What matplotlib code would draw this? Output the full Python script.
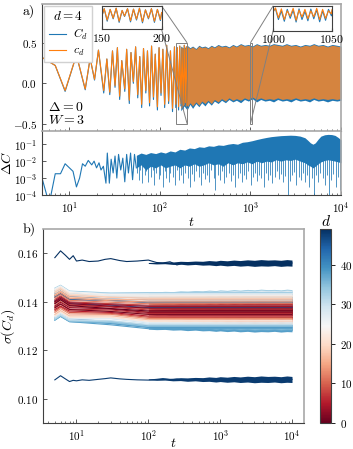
import numpy as np
import matplotlib
matplotlib.use('Agg')
import matplotlib.pyplot as plt
from matplotlib.colors import Normalize
from matplotlib.cm import ScalarMappable
from mpl_toolkits.axes_grid1.inset_locator import mark_inset

plt.rcParams.update({
    'font.family': 'serif',
    'font.serif': ['cmr10'],
    'mathtext.fontset': 'cm',
    'axes.formatter.use_mathtext': True,
    'font.size': 8,
})

# ---------------- panel a) : C_d and c_d, d = 4 ----------------
t_early = [5, 7, 9, 12, 15, 17, 19, 21, 24, 26, 28, 30, 32, 34, 36, 38, 41, 43,
           46, 48, 51, 54, 57, 60, 63, 66, 70, 73, 77, 81, 85, 89, 94, 98, 103,
           108, 113, 119, 125, 131, 138, 145, 150, 156, 161, 166, 171, 176, 181,
           186, 191, 196, 201]
C_early = [0.32, 0.22, -0.10, 0.35, -0.08, 0.31, 0.04, 0.41, -0.12, 0.30, -0.14,
           0.40, -0.05, 0.44, -0.20, 0.28, -0.10, 0.42, -0.25, 0.38, 0.00, 0.45,
           -0.18, 0.33, -0.30, 0.43, -0.12, 0.40, -0.28, 0.46, -0.20, 0.36, -0.33,
           0.44, -0.15, 0.42, -0.30, 0.47, -0.25, 0.40, -0.35, 0.45, -0.30, 0.44,
           -0.33, 0.46, -0.28, 0.43, -0.32, 0.47, -0.27, 0.45, -0.30]
c_early = [0.32, 0.22, -0.09, 0.35, -0.07, 0.31, 0.05, 0.41, -0.09, 0.30, -0.11,
           0.40, -0.03, 0.44, -0.16, 0.28, -0.07, 0.42, -0.21, 0.38, 0.02, 0.45,
           -0.14, 0.33, -0.26, 0.43, -0.09, 0.40, -0.24, 0.46, -0.17, 0.36, -0.29,
           0.44, -0.12, 0.42, -0.26, 0.47, -0.22, 0.40, -0.31, 0.45, -0.26, 0.44,
           -0.29, 0.46, -0.25, 0.43, -0.28, 0.47, -0.24, 0.45, -0.27]

# dense part of the signal: envelopes of the oscillation band
t_band = [170, 185, 200, 215, 230, 250, 270, 290, 315, 340, 370, 400, 440, 480,
          530, 580, 640, 700, 780, 860, 950, 1050, 1170, 1300, 1450, 1620, 1800,
          2000, 2250, 2500, 2800, 3150, 3550, 4000, 4500, 5000, 5600, 6300, 7100,
          8000, 9000, 10000]
C_band_hi = [0.46, 0.43, 0.47, 0.44, 0.46, 0.43, 0.47, 0.45, 0.46, 0.44, 0.47, 0.45,
             0.48, 0.46, 0.47, 0.45, 0.48, 0.46, 0.49, 0.47, 0.48, 0.46, 0.49, 0.47,
             0.48, 0.47, 0.49, 0.48, 0.47, 0.49, 0.47, 0.48, 0.46, 0.48, 0.47, 0.49,
             0.47, 0.48, 0.46, 0.48, 0.47, 0.46]
C_band_lo = [-0.34, -0.28, -0.33, -0.26, -0.31, -0.25, -0.29, -0.24, -0.28, -0.23,
             -0.27, -0.22, -0.25, -0.21, -0.24, -0.20, -0.23, -0.21, -0.24, -0.20,
             -0.22, -0.19, -0.23, -0.20, -0.22, -0.21, -0.23, -0.20, -0.22, -0.21,
             -0.23, -0.20, -0.22, -0.21, -0.23, -0.20, -0.22, -0.21, -0.23, -0.21,
             -0.22, -0.21]
c_band_hi = [0.45, 0.42, 0.46, 0.43, 0.45, 0.42, 0.46, 0.44, 0.45, 0.43, 0.46, 0.44,
             0.47, 0.45, 0.46, 0.44, 0.47, 0.45, 0.48, 0.46, 0.47, 0.45, 0.48, 0.46,
             0.47, 0.46, 0.48, 0.47, 0.46, 0.48, 0.46, 0.47, 0.45, 0.47, 0.46, 0.48,
             0.46, 0.47, 0.45, 0.47, 0.46, 0.45]
c_band_lo = [-0.31, -0.26, -0.30, -0.24, -0.28, -0.23, -0.27, -0.22, -0.25, -0.21,
             -0.25, -0.20, -0.23, -0.19, -0.22, -0.18, -0.21, -0.19, -0.21, -0.18,
             -0.20, -0.17, -0.20, -0.18, -0.20, -0.19, -0.20, -0.18, -0.20, -0.19,
             -0.20, -0.18, -0.20, -0.19, -0.20, -0.18, -0.20, -0.19, -0.20, -0.19,
             -0.20, -0.19]

# zoomed windows
t_in1 = [150, 152, 154.5, 157, 159.5, 162, 164.5, 167, 169, 171.5, 174, 176.5,
         179, 181.5, 184, 186.5, 189, 191.5, 194, 196.5, 199, 200]
C_in1 = [0.05, 0.38, -0.15, 0.35, -0.05, 0.40, -0.20, 0.30, 0.05, 0.38, -0.18,
         0.36, -0.10, 0.40, -0.22, 0.33, -0.05, 0.38, -0.20, 0.35, -0.12, 0.20]
c_in1 = [0.07, 0.38, -0.10, 0.35, -0.02, 0.40, -0.15, 0.31, 0.07, 0.38, -0.13,
         0.36, -0.06, 0.40, -0.17, 0.33, -0.02, 0.38, -0.15, 0.35, -0.08, 0.22]
t_in2 = [1000, 1002, 1004.5, 1007, 1009.5, 1012, 1014.5, 1017, 1019.5, 1022,
         1024.5, 1027, 1029.5, 1032, 1034.5, 1037, 1039.5, 1042, 1044.5, 1047,
         1049.5, 1050]
C_in2 = [0.30, 0.38, -0.05, 0.30, -0.12, 0.36, 0.00, 0.33, -0.15, 0.38, -0.05,
         0.28, -0.10, 0.37, -0.02, 0.34, -0.14, 0.30, -0.08, 0.36, 0.10, 0.30]
c_in2 = [0.25, 0.42, 0.02, 0.38, -0.05, 0.30, 0.08, 0.40, -0.08, 0.33, 0.05,
         0.36, -0.02, 0.30, 0.06, 0.40, -0.05, 0.36, 0.00, 0.30, 0.18, 0.35]

# ---------------- Delta C ----------------
t_dc = [5, 6, 7, 8, 9, 11, 12, 13, 14, 15, 16.2, 17.7, 18.8, 20, 21.3, 22.4, 23.8,
        25.4, 26.3, 27.7, 29, 30.5, 32, 33.5, 35, 37, 39, 41, 43, 45, 47.5, 50,
        52.5, 55]
dc_early = [1.0e-3, 3e-5, 1.8e-3, 1.8e-3, 7e-3, 2.5e-3, 3e-4, 1e-3, 7e-3, 5e-3,
            1.1e-2, 6e-3, 1e-2, 4e-3, 8e-3, 3e-3, 5e-3, 5e-4, 3e-2, 5e-4, 1.3e-2,
            2e-3, 2e-2, 1e-3, 2.5e-2, 3e-3, 1.5e-2, 6e-4, 2.5e-2, 2e-3, 3e-2,
            8e-4, 2.5e-2, 4e-3]
t_dc_band = [55, 62, 70, 79, 90, 102, 115, 130, 147, 166, 188, 212, 240, 271, 306,
             346, 391, 442, 500, 565, 640, 720, 815, 920, 1040, 1180, 1330, 1500,
             1700, 1920, 2170, 2450, 2770, 3130, 3540, 4000, 4300, 4600, 4900, 5200,
             5600, 6000, 6600, 7200, 7900, 8600, 9300, 10000]
dc_hi = [0.022, 0.03, 0.025, 0.032, 0.028, 0.035, 0.03, 0.04, 0.035, 0.05,
         0.045, 0.06, 0.055, 0.07, 0.065, 0.08, 0.075, 0.09, 0.085, 0.1,
         0.11, 0.1, 0.13, 0.14, 0.16, 0.19, 0.22, 0.25, 0.28, 0.3,
         0.32, 0.33, 0.34, 0.33, 0.3, 0.24, 0.17, 0.12, 0.1, 0.12,
         0.2, 0.3, 0.36, 0.38, 0.37, 0.33, 0.25, 0.18]
dc_lo = [0.004, 0.006, 0.003, 0.005, 0.004, 0.006, 0.004, 0.005, 0.006, 0.004,
         0.006, 0.005, 0.007, 0.005, 0.006, 0.008, 0.006, 0.007, 0.005, 0.008,
         0.006, 0.008, 0.007, 0.009, 0.007, 0.01, 0.008, 0.01, 0.009, 0.012,
         0.01, 0.012, 0.011, 0.013, 0.01, 0.008, 0.006, 0.005, 0.004, 0.005,
         0.007, 0.009, 0.011, 0.012, 0.011, 0.01, 0.009, 0.008]
spike_t = [56, 59, 61, 64, 68, 71, 74, 79, 83, 87, 91, 97, 101, 107, 113, 118, 126,
           131, 139, 147, 153, 163, 171, 182, 190, 203, 214, 226, 241, 252, 268,
           283, 297, 316, 333, 350, 371, 392, 410, 436, 462, 487, 515, 544, 578,
           610, 643, 680, 722, 760, 805, 851, 897, 950, 1004, 1062, 1120, 1185,
           1253, 1322, 1400, 1478, 1563, 1650, 1745, 1846, 1950, 2060, 2180, 2303,
           2435, 2570, 2720, 2875, 3040, 3210, 3395, 3590, 3790, 4010, 4240, 4480,
           4730, 5000, 5290, 5590, 5910, 6250, 6600, 6980, 7380, 7800, 8240, 8710,
           9210, 9730]
spike_lo = [2e-3, 8e-4, 3e-3, 5e-4, 1.5e-3, 2.5e-3, 6e-4, 1.2e-3, 3e-3, 4e-4,
            2e-3, 9e-4, 1.5e-3, 3e-4, 2.5e-3, 1e-3, 6e-4, 2e-3, 1.2e-3, 4e-4,
            3e-3, 8e-4, 1.5e-3, 5e-4, 2e-3, 1e-3, 3e-4, 1.8e-3, 7e-4, 2.5e-3,
            1.2e-3, 4e-4, 2e-3, 9e-4, 1.5e-3, 6e-4, 3e-3, 1e-3, 2e-4, 1.5e-3,
            8e-4, 2.5e-3, 5e-4, 1.2e-3, 2e-3, 7e-4, 1.5e-3, 3e-4, 1e-3, 2e-3,
            6e-4, 1.5e-3, 9e-4, 2.5e-3, 4e-4, 1.2e-3, 2e-3, 7e-4, 1.5e-3, 1e-3,
            3e-4, 2e-3, 8e-4, 1.5e-3, 5e-4, 1.2e-3, 2.5e-3, 9e-4, 1.8e-3, 6e-4,
            1.3e-3, 1e-4, 7e-4, 1.5e-3, 2.2e-3, 4e-4, 1.2e-3, 8e-4, 2e-3, 6e-4,
            1.5e-3, 3e-4, 1e-3, 1e-4, 1.5e-3, 6e-4, 2e-3, 1e-3, 4e-4, 1.5e-3,
            1e-4, 8e-4, 1.8e-3, 3e-4, 1.2e-3, 2e-4]

# ---------------- panel b) : sigma(C_d) for d = 0..49 ----------------
sig_t5 = [0.1392, 0.1375, 0.1400, 0.1382, 0.1404, 0.1368, 0.1394, 0.1378, 0.1410, 0.1362,
          0.1398, 0.1386, 0.1416, 0.1356, 0.1424, 0.1372, 0.1430, 0.1348, 0.1438, 0.1364,
          0.1444, 0.1342, 0.1428, 0.1450, 0.1346, 0.1436, 0.1454, 0.1338, 0.1446, 0.1335,
          0.1452, 0.1330, 0.1440, 0.1328, 0.1456, 0.1326, 0.1446, 0.1324, 0.1325, 0.1404,
          0.1330, 0.1432, 0.1336, 0.1418, 0.1436, 0.1400, 0.1426, 0.1420]
sig_t6 = [0.1408, 0.1390, 0.1414, 0.1398, 0.1420, 0.1382, 0.1410, 0.1392, 0.1424, 0.1378,
          0.1412, 0.1402, 0.1430, 0.1372, 0.1438, 0.1388, 0.1444, 0.1364, 0.1452, 0.1380,
          0.1458, 0.1358, 0.1442, 0.1462, 0.1362, 0.1450, 0.1466, 0.1354, 0.1460, 0.1350,
          0.1464, 0.1346, 0.1454, 0.1344, 0.1468, 0.1342, 0.1460, 0.1340, 0.1340, 0.1418,
          0.1346, 0.1446, 0.1350, 0.1432, 0.1450, 0.1414, 0.1440, 0.1434]
sig_t8 = [0.1384, 0.1368, 0.1392, 0.1376, 0.1396, 0.1362, 0.1386, 0.1370, 0.1400, 0.1356,
          0.1388, 0.1380, 0.1406, 0.1350, 0.1414, 0.1366, 0.1420, 0.1342, 0.1426, 0.1358,
          0.1432, 0.1336, 0.1418, 0.1438, 0.1340, 0.1426, 0.1442, 0.1332, 0.1434, 0.1328,
          0.1440, 0.1324, 0.1428, 0.1322, 0.1444, 0.1320, 0.1434, 0.1318, 0.1318, 0.1396,
          0.1324, 0.1420, 0.1330, 0.1408, 0.1424, 0.1392, 0.1416, 0.1410]
sig_t30 = [0.1372, 0.1360, 0.1382, 0.1370, 0.1388, 0.1356, 0.1378, 0.1366, 0.1392, 0.1352,
           0.1380, 0.1372, 0.1398, 0.1348, 0.1404, 0.1362, 0.1410, 0.1342, 0.1418, 0.1356,
           0.1420, 0.1336, 0.1410, 0.1428, 0.1338, 0.1416, 0.1430, 0.1332, 0.1426, 0.1330,
           0.1434, 0.1322, 0.1420, 0.1318, 0.1436, 0.1315, 0.1430, 0.1312, 0.1305, 0.1392,
           0.1310, 0.1415, 0.1318, 0.1405, 0.1418, 0.1386, 0.1410, 0.1406]
sig_end = [0.1362, 0.1348, 0.1374, 0.1356, 0.1381, 0.1341, 0.1366, 0.1352, 0.1386, 0.1336,
           0.1371, 0.1358, 0.1392, 0.1331, 0.1399, 0.1346, 0.1408, 0.1326, 0.1414, 0.1339,
           0.1419, 0.1320, 0.1404, 0.1427, 0.1323, 0.1411, 0.1431, 0.1316, 0.1424, 0.1312,
           0.1435, 0.1307, 0.1418, 0.1303, 0.1438, 0.1299, 0.1429, 0.1296, 0.1289, 0.1383,
           0.1294, 0.1409, 0.1301, 0.1396, 0.1416, 0.1376, 0.1404, 0.1398]
t_knots = [5, 6, 8, 30, 100, 10000]

# the two outlying series (d = 48 and d = 49)
t_out = [5, 6, 7, 8, 9, 10, 12, 15, 20, 25, 30, 40, 50, 70, 100, 130, 160, 200,
         250, 300, 400]
sig_d49 = [0.1582, 0.1610, 0.1592, 0.1575, 0.1590, 0.1568, 0.1572, 0.1566, 0.1568,
           0.1575, 0.1578, 0.1570, 0.1566, 0.1568, 0.1572, 0.1562, 0.1560, 0.1565,
           0.1552, 0.1558, 0.1560]
sig_d48 = [0.1078, 0.1095, 0.1082, 0.1071, 0.1076, 0.1074, 0.1078, 0.1076, 0.1080,
           0.1083, 0.1086, 0.1082, 0.1080, 0.1078, 0.1077, 0.1080, 0.1083, 0.1079,
           0.1081, 0.1078, 0.1080]
end_d49 = 0.1560
end_d48 = 0.1080

# thickness of the fast fluctuations at late times (above / below each level)
jit_t = [100, 130, 170, 220, 280, 350, 450, 570, 700, 870, 1000, 1250, 1550,
         1900, 2400, 3000, 3700, 4600, 5700, 7000, 8500, 10000]
jit_hi = np.array([0.0002, 0.0003, 0.0005, 0.0004, 0.0007, 0.0006, 0.0008, 0.0007,
                   0.0010, 0.0008, 0.0011, 0.0009, 0.0012, 0.0010, 0.0013, 0.0011,
                   0.0014, 0.0012, 0.0013, 0.0011, 0.0014, 0.0012])
jit_lo = np.array([0.0002, 0.0004, 0.0003, 0.0006, 0.0005, 0.0008, 0.0006, 0.0009,
                   0.0008, 0.0011, 0.0009, 0.0012, 0.0010, 0.0013, 0.0011, 0.0014,
                   0.0012, 0.0013, 0.0011, 0.0014, 0.0012, 0.0013])


def style(ax):
    for s in ['top', 'right']:
        ax.spines[s].set_color('#a8a8a8')
        ax.spines[s].set_linewidth(1.2)
    for s in ['left', 'bottom']:
        ax.spines[s].set_color('#404040')
        ax.spines[s].set_linewidth(0.8)
    ax.tick_params(which='major', direction='in', length=3, width=0.6, color='#404040')
    ax.tick_params(which='minor', direction='in', length=1.8, width=0.5, color='#404040')


fig = plt.figure(figsize=(3.53, 4.49), dpi=100)
ax_a = fig.add_axes([0.119, 0.7082, 0.847, 0.2829])
ax_dc = fig.add_axes([0.119, 0.5657, 0.847, 0.1425], sharex=ax_a)
ax_b = fig.add_axes([0.1218, 0.0579, 0.739, 0.432])
cax = fig.add_axes([0.9065, 0.0579, 0.0312, 0.432])

blue = '#1f77b4'
orange = '#ff7f0e'
band_orange = '#d5843f'

#------------------------------ panel a ------------------------------#
ax_a.plot(t_early, C_early, color=blue, lw=0.8, label='$C_d$')
ax_a.plot(t_early, c_early, color=orange, lw=0.8, label='$c_d$')
ax_a.fill_between(t_band, C_band_lo, C_band_hi, color=blue, lw=0)
ax_a.fill_between(t_band, c_band_lo, c_band_hi, color=band_orange, lw=0)
ax_a.set_xscale('log')
ax_a.set_xlim(5, 1e4)
ax_a.set_ylim(-0.59, 0.98)
ax_a.set_yticks([-0.5, 0.0, 0.5])
ax_a.tick_params(labelbottom=False)
style(ax_a)
ax_a.legend(title='$d=4$', loc='upper left', fontsize=8.5, title_fontsize=9.5,
            handlelength=1.5, handletextpad=0.6, borderpad=0.35, labelspacing=0.3,
            borderaxespad=0.2, framealpha=1, edgecolor='0.82', fancybox=False)
ax_a.text(0.02, 0.035, '$\\Delta=0$\n$W=3$', transform=ax_a.transAxes,
          fontsize=10, va='bottom', linespacing=1.0)

ins1 = ax_a.inset_axes([0.2, 0.80, 0.2, 0.185])
ins1.plot(t_in1, C_in1, color=blue, lw=0.8)
ins1.plot(t_in1, c_in1, color=orange, lw=0.8)
ins1.set_xlim(150, 200)
ins1.set_ylim(-0.5, 0.5)
ins1.set_xticks([150, 200])
ins1.set_yticks([])
ins1.tick_params(direction='in', length=2, pad=2, labelsize=8.5)
mark_inset(ax_a, ins1, loc1=1, loc2=4, fc='none', ec='0.5', lw=0.7)

ins2 = ax_a.inset_axes([0.773, 0.79, 0.197, 0.195])
ins2.plot(t_in2, C_in2, color=blue, lw=0.8)
ins2.plot(t_in2, c_in2, color=orange, lw=0.8)
ins2.set_xlim(1000, 1050)
ins2.set_ylim(-0.5, 0.5)
ins2.set_xticks([1000, 1050])
ins2.set_yticks([])
ins2.tick_params(direction='in', length=2, pad=2, labelsize=8.5)
mark_inset(ax_a, ins2, loc1=2, loc2=3, fc='none', ec='0.5', lw=0.7)
for ins in (ins1, ins2):
    for s in ins.spines.values():
        s.set_color('#404040')
        s.set_linewidth(0.8)

#------------------------------ Delta C ------------------------------#
ax_dc.plot(t_dc, dc_early, color=blue, lw=0.8)
ax_dc.fill_between(t_dc_band, dc_lo, dc_hi, color=blue, lw=0)
ax_dc.vlines(spike_t, spike_lo, 0.02, color=blue, lw=0.55)
ax_dc.set_yscale('log')
ax_dc.set_ylim(1e-4, 0.6)
ax_dc.set_yticks([1e-4, 1e-3, 1e-2, 1e-1])
ax_dc.yaxis.set_minor_locator(matplotlib.ticker.NullLocator())
ax_dc.set_xlim(5, 1e4)
ax_dc.set_ylabel('$\\Delta C$', fontsize=10)
ax_dc.yaxis.set_label_coords(-0.095, 0.5)
ax_dc.set_xlabel('$t$', fontsize=10, labelpad=1)
style(ax_dc)

#------------------------------ panel b ------------------------------#
cmap = plt.get_cmap('RdBu')
norm = Normalize(0, 49)
for d in reversed(range(len(sig_end))):
    col = cmap(norm(d))
    ax_b.plot(t_knots, [sig_t5[d], sig_t6[d], sig_t8[d], sig_t30[d], sig_end[d], sig_end[d]],
              color=col, lw=0.8)
    ax_b.fill_between(jit_t, sig_end[d] - jit_lo, sig_end[d] + jit_hi, color=col, lw=0)
for d, sig, end in [(49, sig_d49, end_d49), (48, sig_d48, end_d48)]:
    col = cmap(norm(d))
    ax_b.plot(t_out + [10000], sig + [end], color=col, lw=0.8)
    ax_b.fill_between(jit_t, end - jit_lo, end + jit_hi, color=col, lw=0)
ax_b.set_xscale('log')
ax_b.set_ylim(0.09, 0.17)
ax_b.set_yticks([0.10, 0.12, 0.14, 0.16])
ax_b.set_ylabel('$\\sigma(C_d)$', fontsize=10)
ax_b.yaxis.set_label_coords(-0.098, 0.5)
ax_b.set_xlabel('$t$', fontsize=10, labelpad=-4)
style(ax_b)

sm = ScalarMappable(norm=norm, cmap=cmap)
cb = fig.colorbar(sm, cax=cax, ticks=[0, 10, 20, 30, 40])
cb.outline.set_edgecolor('#404040')
cb.outline.set_linewidth(0.8)
cax.tick_params(length=3, width=0.6)
cax.set_title('$d$', fontsize=11, pad=2)

fig.text(0.065, 0.975, 'a)', fontsize=10, va='center')
fig.text(0.065, 0.49, 'b)', fontsize=10, va='center')

fig.savefig('out.png', dpi=100)
